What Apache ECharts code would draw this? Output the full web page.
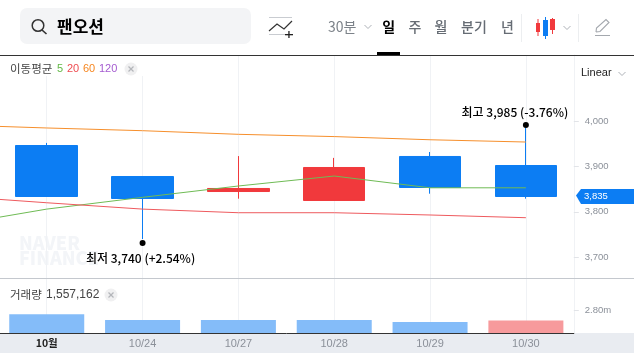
<!DOCTYPE html>
<html>
<head>
<meta charset="utf-8">
<title>팬오션</title>
<script src="https://cdn.jsdelivr.net/npm/echarts@6/dist/echarts.min.js"></script>
<style>
html, body { margin: 0; padding: 0; background: #fff; }
#chart { width: 634px; height: 353px; }
</style>
</head>
<body>
<div id="chart"></div>
<script>
// first category is the trading day before the visible window, it sits off the left edge
var categories = ['', '10월', '10/24', '10/27', '10/28', '10/29', '10/30'];
var opens  = [null, 3946.3, 3877.9, 3844.8, 3825.0, 3922.1, 3902.2];
var closes = [null, 3833.8, 3829.4, 3851.5, 3897.8, 3853.7, 3833.8];
var lows   = [null, 3833.8, 3740, 3829, 3825.0, 3840, 3829];
var highs  = [null, 3952, 3877.9, 3923, 3919, 3932, 3985];
var ma5  = [3770, 3806, 3832, 3857, 3879, 3853, 3853];
var ma20 = [3835, 3820, 3806, 3798, 3798, 3793, 3787];
var ma60 = [3992, 3985, 3979, 3971, 3966, 3959, 3954];
var volumes = [null, 2350000, 1630000, 1620000, 1620000, 1380000, 1557162];
var volumeUp = [false, false, false, false, false, false, true];
var priceTicks = [3700, 3800, 3900, 4000];
var volumeTicks = [2800000];
var lastPrice = 3835;

var FONT = '"Noto Sans CJK KR", "Liberation Sans", sans-serif';
var LATIN = '"Liberation Sans", sans-serif';
var UP = '#f1393c', DOWN = '#0c7df3';
var GRID_LINE = '#f0f2f5', TICK_TEXT = '#8b9099';

var chart = echarts.init(document.getElementById('chart'));

function txt(x, y, text, size, color, weight, align, family) {
  return { type: 'text', silent: true, z: 20, x: x, y: y, style: {
    text: text, font: (weight || 'normal') + ' ' + size + 'px ' + (family || FONT), fill: color,
    align: align || 'left', verticalAlign: 'middle' } };
}
function rect(x, y, w, h, fill, z, r) {
  return { type: 'rect', silent: true, z: z === undefined ? 20 : z,
    shape: { x: x, y: y, width: w, height: h, r: r || 0 }, style: { fill: fill } };
}
function poly(points, color, width) {
  return { type: 'polyline', silent: true, z: 20, shape: { points: points },
    style: { stroke: color, lineWidth: width || 1, fill: null } };
}
function chevron(x, y) {
  return poly([[x - 3.5, y - 2], [x, y + 1.5], [x + 3.5, y - 2]], '#aeb2b8', 1);
}

var topBar = [
  // legend patch hides the grid lines behind the moving average label
  rect(0, 56, 145, 20, '#fff', 3),
  rect(0, 333, 634, 20, '#e9ecf1', -1),
  rect(0, 55, 634, 1, '#333', 20),
  rect(0, 278, 634, 1, '#c4c8ce', 20),
  rect(20, 8, 231, 36, '#f3f4f6', 20, 7),
  { type: 'circle', silent: true, z: 21, shape: { cx: 38, cy: 25.5, r: 5.8 },
    style: { stroke: '#333', lineWidth: 1.5, fill: null } },
  poly([[42, 30], [46.5, 34]], '#333', 1.6),
  txt(57, 26.5, '팬오션', 17, '#000', 'bold'),
  // indicator add icon
  rect(269, 17, 23, 1, '#c9ccd1', 20),
  rect(269, 34, 18, 1, '#c9ccd1', 20),
  poly([[269, 31], [277, 24], [284, 29], [292, 21]], '#333', 1.2),
  rect(285, 34, 8, 1.3, '#222', 21),
  rect(288.3, 31, 1.3, 7, '#222', 21),
  txt(328, 27, '30분', 14, '#7c8289'),
  chevron(368, 27),
  txt(388.7, 27, '일', 14, '#000', 'bold', 'center'),
  txt(415, 27, '주', 14, '#666c74', '500', 'center'),
  txt(441, 27, '월', 14, '#666c74', '500', 'center'),
  txt(474, 27, '분기', 14, '#666c74', '500', 'center'),
  txt(507.5, 27, '년', 14, '#666c74', '500', 'center'),
  rect(377, 52, 23, 3, '#000', 21),
  rect(521, 14, 1, 28, '#eceef0', 20),
  rect(578, 14, 1, 28, '#eceef0', 20),
  // chart type icon
  rect(536, 23, 4, 9, UP, 20), rect(537.5, 19, 1, 17, UP, 20),
  rect(543, 20, 5, 16, DOWN, 20), rect(545, 17, 1, 22, DOWN, 20),
  rect(550, 19, 5, 11, UP, 20), rect(552, 18, 1, 16, UP, 20),
  chevron(567, 28),
  // pencil icon
  poly([[596, 32], [596.5, 28], [606, 19.5], [609, 22.5], [600, 31.5], [596, 32]], '#a4a8ae', 1.1),
  rect(595, 35, 15, 1, '#a4a8ae', 20),

  txt(10, 69, '이동평균', 11.5, '#444'),
  txt(57, 69, '5', 11, '#62b846', null, null, LATIN),
  txt(67, 69, '20', 11, '#ee4b50', null, null, LATIN),
  txt(83, 69, '60', 11, '#f6861f', null, null, LATIN),
  txt(99, 69, '120', 11, '#a45bd0', null, null, LATIN),
  { type: 'circle', silent: true, z: 20, shape: { cx: 131, cy: 69, r: 6.5 }, style: { fill: '#f0f0f1' } },
  poly([[128.5, 66.5], [133.5, 71.5]], '#b4b6ba', 1.2),
  poly([[133.5, 66.5], [128.5, 71.5]], '#b4b6ba', 1.2),
  txt(581, 73, 'Linear', 11, '#222', null, null, LATIN),
  chevron(622, 74),

  txt(10, 295, '거래량', 11.5, '#444'),
  txt(46, 295, '1,557,162', 12, '#444', null, null, LATIN),
  { type: 'circle', silent: true, z: 20, shape: { cx: 111, cy: 295, r: 6.5 }, style: { fill: '#f0f0f1' } },
  poly([[108.5, 292.5], [113.5, 297.5]], '#b4b6ba', 1.2),
  poly([[113.5, 292.5], [108.5, 297.5]], '#b4b6ba', 1.2),

  // watermark
  txt(19, 243, 'NAVER', 18, '#f3f5f8', '900'),
  txt(19, 258, 'FINANCE', 18, '#f3f5f8', '900')
];
topBar[topBar.length - 1].z = 0;
topBar[topBar.length - 2].z = 0;

var option = {
  animation: false,
  backgroundColor: '#fff',
  textStyle: { fontFamily: FONT },
  graphic: { elements: topBar },
  grid: [
    { left: -97, right: 60.2, top: 55, height: 223, outerBoundsMode: 'none' },
    { left: -97, right: 60.2, top: 279, height: 54, outerBoundsMode: 'none' }
  ],
  xAxis: [
    { type: 'category', gridIndex: 0, data: categories,
      axisLine: { show: false }, axisTick: { show: false }, axisLabel: { show: false },
      splitLine: { show: true, alignWithLabel: true, lineStyle: { color: GRID_LINE, width: 1 } } },
    { type: 'category', gridIndex: 1, data: categories,
      axisLine: { lineStyle: { color: '#333', width: 1 } }, axisTick: { show: false },
      axisLabel: { interval: 0, margin: 5, fontSize: 11, fontFamily: LATIN, color: TICK_TEXT,
        formatter: function (v) { return v === '10월' ? '{month|' + v + '}' : v; },
        rich: { month: { fontFamily: FONT, fontSize: 10.5, fontWeight: 'bold', color: '#222' } } },
      splitLine: { show: true, alignWithLabel: true, lineStyle: { color: GRID_LINE, width: 1 } } }
  ],
  yAxis: [
    { type: 'value', gridIndex: 0, position: 'right', min: 3654, max: 4146, scale: true,
      axisLine: { show: true, lineStyle: { color: GRID_LINE } },
      axisTick: { show: true, length: 5, lineStyle: { color: '#e2e4e8' }, customValues: priceTicks },
      axisLabel: { margin: 11, fontSize: 9.5, color: TICK_TEXT, fontFamily: LATIN,
        padding: [2, 0, 0, 0], customValues: priceTicks,
        formatter: function (v) { return v.toLocaleString('en-US'); } },
      splitLine: { show: false } },
    { type: 'value', gridIndex: 1, position: 'right', min: 0, max: 6780000,
      axisLine: { show: true, lineStyle: { color: GRID_LINE } },
      axisTick: { show: true, length: 5, lineStyle: { color: '#e2e4e8' }, customValues: volumeTicks },
      axisLabel: { margin: 11, fontSize: 9.5, color: TICK_TEXT, fontFamily: LATIN,
        padding: [2, 0, 0, 0], customValues: volumeTicks,
        formatter: function (v) { return (v / 1000000).toFixed(2) + 'm'; } },
      splitLine: { show: false } }
  ],
  series: [
    { type: 'candlestick', xAxisIndex: 0, yAxisIndex: 0, barWidth: 62, z: 3,
      data: categories.map(function (c, i) {
        return opens[i] === null ? '-' : [opens[i], closes[i], lows[i], highs[i]];
      }),
      itemStyle: { color: UP, color0: DOWN, borderColor: UP, borderColor0: DOWN, borderWidth: 1 },
      markPoint: {
        symbol: 'circle', symbolSize: 6, z: 10, silent: true,
        itemStyle: { color: '#000' },
        data: [
          { coord: ['10/24', 3740], symbolOffset: [0, 4],
            label: { show: true, formatter: '최저 3,740 (+2.54%)', position: 'bottom', offset: [-2, 1],
              color: '#000', fontSize: 12, fontWeight: 500, fontFamily: FONT } },
          { coord: ['10/30', 3985], symbolOffset: [0, -3],
            label: { show: true, formatter: '최고 3,985 (-3.76%)', position: 'top', offset: [-11, 1],
              color: '#000', fontSize: 12, fontWeight: 500, fontFamily: FONT } }
        ]
      } },
    { name: 'MA5', type: 'line', xAxisIndex: 0, yAxisIndex: 0, data: ma5, symbol: 'none', z: 5,
      lineStyle: { color: '#6fbb55', width: 1 } },
    { name: 'MA20', type: 'line', xAxisIndex: 0, yAxisIndex: 0, data: ma20, symbol: 'none', z: 5,
      lineStyle: { color: '#ee5a5e', width: 1 } },
    { name: 'MA60', type: 'line', xAxisIndex: 0, yAxisIndex: 0, data: ma60, symbol: 'none', z: 5,
      lineStyle: { color: '#f68f2c', width: 1 } },
    { type: 'bar', xAxisIndex: 1, yAxisIndex: 1, barWidth: 75, z: 3,
      data: categories.map(function (c, i) {
        if (volumes[i] === null) return null;
        return { value: volumes[i], itemStyle: { color: volumeUp[i] ? '#f79a9c' : '#84bcf9' } };
      }) }
  ]
};
chart.setOption(option);

// current price tag follows the y scale
var tagY = chart.convertToPixel({ yAxisIndex: 0 }, lastPrice);
topBar.push({ type: 'polygon', silent: true, z: 20,
  shape: { points: [[576, tagY - 0.5], [581, tagY - 7], [634, tagY - 7], [634, tagY + 8], [581, tagY + 8]] },
  style: { fill: DOWN } });
topBar.push(txt(584, tagY, lastPrice.toLocaleString('en-US'), 9.5, '#fff', null, null, LATIN));
chart.setOption({ graphic: { elements: topBar } });
</script>
</body>
</html>
